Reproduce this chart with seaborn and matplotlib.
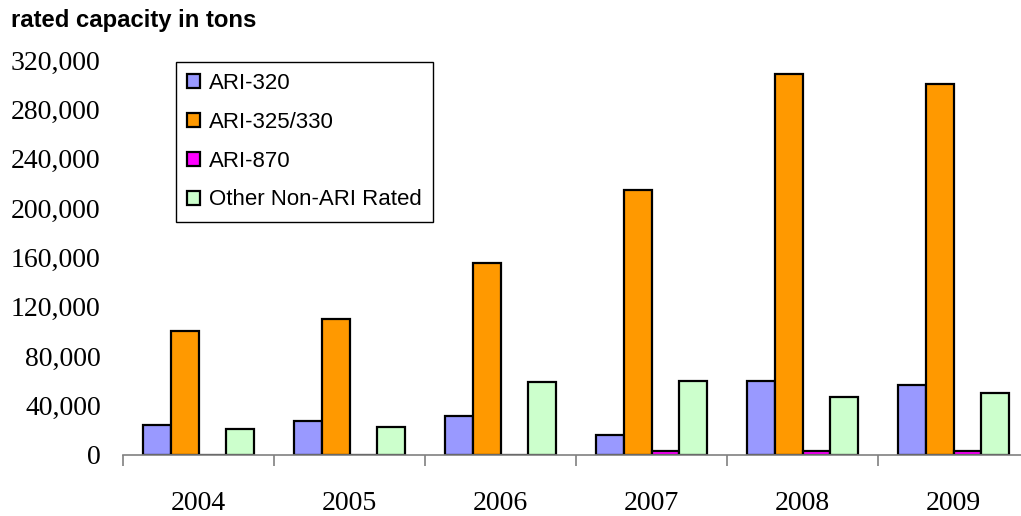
"""
Rated capacity in tons by ARI rating, 2004-2009 (grouped bars).
"""

import pandas as pd
import seaborn as sns
import matplotlib

matplotlib.use("Agg")
import matplotlib.pyplot as plt
from matplotlib.ticker import FuncFormatter, FixedLocator

years = ["2004", "2005", "2006", "2007", "2008", "2009"]
series = ["ARI-320", "ARI-325/330", "ARI-870", "Other Non-ARI Rated"]
ari_320 = [24400, 27400, 31700, 16200, 60000, 56600]
ari_325_330 = [100700, 110200, 155700, 214400, 308400, 300200]
ari_870 = [0, 0, 0, 3000, 3000, 3000]
other_non_ari = [20900, 22500, 59300, 59800, 47100, 50100]
colors = ["#9999FF", "#FF9900", "#FF00FF", "#CCFFCC"]

rows = []
for name, vals in zip(series, [ari_320, ari_325_330, ari_870, other_non_ari]):
    for y, v in zip(years, vals):
        rows.append({"year": y, "series": name, "tons": v})
df = pd.DataFrame(rows)

sns.set_style("white")
plt.rcParams["text.color"] = "black"
plt.rcParams["xtick.color"] = "black"
plt.rcParams["ytick.color"] = "black"

fig = plt.figure(figsize=(10.21, 5.16), dpi=100)
W, H = 1021, 516
ax = fig.add_axes([123 / W, (H - 455) / H, (1029 - 123) / W, (455 - 60) / H])

sns.barplot(
    data=df, x="year", y="tons", hue="series",
    order=years, hue_order=series, palette=colors,
    width=0.74, edgecolor="black", linewidth=1.6,
    saturation=1, errorbar=None, ax=ax,
)

ax.set_ylim(0, 320000)
ax.set_xlim(-0.5, 5.5)
ax.set_yticks(range(0, 320001, 40000))
ax.yaxis.set_major_formatter(FuncFormatter(lambda v, p: f"{int(v):,}"))
ax.xaxis.set_minor_locator(FixedLocator([i - 0.5 for i in range(7)]))

for s in ["top", "right", "left"]:
    ax.spines[s].set_visible(False)
ax.spines["bottom"].set_color("#808080")
ax.spines["bottom"].set_linewidth(1.2)

ax.tick_params(axis="y", length=0, pad=16, labelsize=20, labelcolor="black")
ax.tick_params(axis="x", which="major", length=0, pad=26, labelsize=20,
               labelcolor="black")
ax.tick_params(axis="x", which="minor", bottom=True, length=8, width=1.2,
               color="#808080", direction="out")
for lab in ax.get_xticklabels() + ax.get_yticklabels():
    lab.set_fontfamily("Liberation Serif")

ax.set_xlabel("")
ax.set_ylabel("")

handles, labels = ax.get_legend_handles_labels()
leg = ax.legend(
    handles, labels, loc="upper left",
    bbox_to_anchor=(176 / W, 1 - 62 / H), bbox_transform=fig.transFigure,
    borderaxespad=0, frameon=True, fancybox=False, edgecolor="black",
    framealpha=1, handlelength=0.6, handleheight=0.6, handletextpad=0.4,
    labelspacing=0.8, borderpad=0.5,
    prop={"family": "Liberation Sans", "size": 16},
)
leg.get_frame().set_linewidth(1.0)
for t in leg.get_texts():
    t.set_color("black")

fig.text(11 / W, 1 - 21 / H, "rated capacity in tons",
         fontfamily="Liberation Sans", fontweight="bold", fontsize=17.2,
         color="black", va="center", ha="left")

fig.savefig("out.png", dpi=100)
plt.close()
